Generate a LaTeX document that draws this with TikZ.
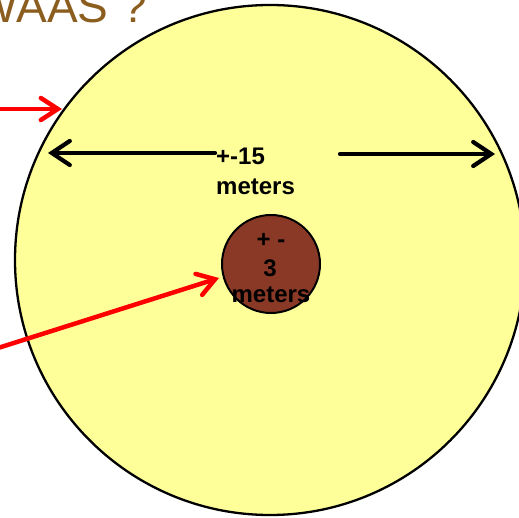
\documentclass[tikz,border=0pt]{standalone}
\usepackage{fontspec}
\setmainfont{Liberation Sans}
\usetikzlibrary{arrows.meta}
\definecolor{paleyellow}{RGB}{255,255,153}
\definecolor{rust}{RGB}{138,57,38}
\definecolor{titlebrown}{RGB}{139,94,31}
\tikzset{
  blackarrow/.style={line width=4.2pt, -{Straight Barb[length=18pt,width=24pt,line cap=round]}, line cap=round, black},
  redarrow/.style={line width=4.5pt, -{Straight Barb[length=17pt,width=22pt,line cap=round]}, line cap=round, red},
  lbl/.style={font=\fontsize{24}{30}\selectfont\bfseries, inner sep=0pt}
}
\begin{document}
\begin{tikzpicture}[x=1pt,y=1pt]
\useasboundingbox (0,0) rectangle (519,517);
\clip (0,0) rectangle (519,517);
\node[text=titlebrown, font=\fontsize{46}{50}\selectfont, anchor=base east, inner sep=0pt] (title) at (147,494) {WAAS ?};
\node[circle, draw=black, line width=2.3pt, fill=paleyellow, minimum size=510pt, inner sep=0pt] (outer) at (270,257) {};
\node[circle, draw=black, line width=2pt, fill=rust, minimum size=98pt, inner sep=0pt] (inner) at (271,253) {};
\node[lbl, anchor=base west] (t1) at (216,352) {+-15};
\node[lbl, anchor=base west] (t2) at (216,322) {meters};
\node[lbl, anchor=base] (i1) at (271,269) {+ -};
\node[lbl, anchor=base] (i2) at (270,240) {3};
\node[lbl, anchor=base] (i3) at (271,214) {meters};
\coordinate (la) at (215,364);
\coordinate (lb) at (48,364);
\coordinate (ra) at (340,363);
\coordinate (rb) at (495,363);
\draw[blackarrow] (la) -- (lb);
\draw[blackarrow] (ra) -- (rb);
\coordinate (r1a) at (-2,408);
\coordinate (r1b) at (62,408);
\coordinate (r2a) at (-2,169);
\coordinate (r2b) at (219,239);
\draw[redarrow] (r1a) -- (r1b);
\draw[redarrow] (r2a) -- (r2b);
\end{tikzpicture}
\end{document}
